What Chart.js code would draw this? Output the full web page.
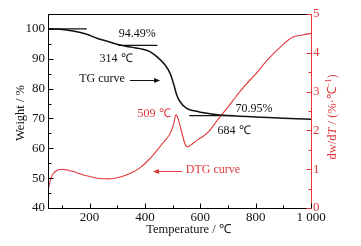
<!DOCTYPE html>
<html>
<head>
<meta charset="utf-8">
<script src="https://cdn.jsdelivr.net/npm/chart.js@4.4.0/dist/chart.umd.min.js"></script>
<style>
  html, body { margin: 0; padding: 0; background: #fff; }
  #wrap { width: 361px; height: 246px; }
</style>
</head>
<body>
<div id="wrap"><canvas id="tgChart" width="361" height="246"></canvas></div>
<script>
// TG curve (weight %, left axis)
const tgTemp   = [50, 93, 141, 190, 226, 270, 310, 350, 382, 418, 443, 473, 491, 503, 515, 527, 551, 587, 600, 635, 671, 700, 800, 900, 1000];
const tgWeight = [100, 99.9, 99.3, 98.2, 96.9, 95.7, 94.6, 93.9, 93.4, 92.4, 90.7, 87.9, 85.1, 81.8, 77.9, 75.6, 73.4, 72.4, 72.1, 71.6, 71.2, 71.0, 70.5, 70.1, 69.7];

// DTG curve (dw/dT, right axis)
const dtgTemp = [50, 60, 69, 85, 100, 120, 142, 170, 202, 238, 270, 311, 350, 383, 415, 444, 470, 492, 505, 512, 520, 534, 545, 552, 565, 589, 625, 667, 700, 730, 758, 800, 842, 891, 933, 970, 1000];
const dtgRate = [0.46, 0.75, 0.89, 0.98, 1.0, 0.98, 0.94, 0.87, 0.81, 0.76, 0.75, 0.80, 0.90, 1.04, 1.25, 1.49, 1.72, 1.93, 2.2, 2.4, 2.3, 1.93, 1.65, 1.58, 1.62, 1.75, 1.93, 2.31, 2.6, 2.88, 3.13, 3.45, 3.81, 4.16, 4.40, 4.46, 4.50];

// tangent lines (temperature from/to, weight)
const tangentFrom   = [50, 305, 560];
const tangentTo     = [190, 445, 720];
const tangentWeight = [100, 94.49, 70.95];

// tick labels
const xTicks  = [200, 400, 600, 800, 1000];
const yTicks  = [40, 50, 60, 70, 80, 90, 100];
const y1Ticks = [0, 1, 2, 3, 4, 5];

// annotation texts (temperature, weight, text, red?)
const noteText  = ['94.49%', '314 ℃', 'TG curve', '509 ℃', '70.95%', '684 ℃', 'DTG curve'];
const noteTemp  = [372, 296, 245, 433, 794, 722, 646];
const noteWt    = [98.3, 89.9, 83.2, 71.5, 73.2, 65.8, 52.7];
const noteRed   = [false, false, false, true, false, false, true];

const RED = '#e0383c';
const FONT = '"Liberation Serif", "Times New Roman", serif';

document.addEventListener("DOMContentLoaded", () => {
  const ctx = document.getElementById('tgChart').getContext('2d');

  const datasets = [
    {
      label: 'TG',
      data: tgTemp.map((t, i) => ({ x: t, y: tgWeight[i] })),
      borderColor: '#111', borderWidth: 1.5, pointRadius: 0,
      cubicInterpolationMode: 'monotone', yAxisID: 'y'
    },
    {
      label: 'DTG',
      data: dtgTemp.map((t, i) => ({ x: t, y: dtgRate[i] })),
      borderColor: RED, borderWidth: 1.1, pointRadius: 0,
      cubicInterpolationMode: 'monotone', yAxisID: 'y1'
    }
  ];
  tangentFrom.forEach((t, i) => {
    datasets.push({
      label: 'tangent' + i,
      data: [{ x: t, y: tangentWeight[i] }, { x: tangentTo[i], y: tangentWeight[i] }],
      borderColor: '#111', borderWidth: 1.3, pointRadius: 0, yAxisID: 'y'
    });
  });

  // 프레임, 안쪽 눈금, 축 제목, 주석
  const deco = {
    id: 'deco',
    afterDraw(chart) {
      const c = chart.ctx, a = chart.chartArea;
      const sx = chart.scales.x, sy = chart.scales.y, sy1 = chart.scales.y1;
      const L = Math.round(a.left) + 0.5, R = Math.round(a.right) + 0.5;
      const T = Math.round(a.top) + 0.5, B = Math.round(a.bottom) + 0.5;
      c.save();
      c.lineWidth = 1;

      function seg(x1, y1, x2, y2, col) {
        c.strokeStyle = col;
        c.beginPath(); c.moveTo(x1, y1); c.lineTo(x2, y2); c.stroke();
      }
      // frame
      seg(L, T, R, T, '#000');
      seg(L, T, L, B, '#000');
      seg(L, B, R, B, '#000');
      seg(R, T, R, B, RED);

      // x ticks
      for (let v = 100; v <= 1000; v += 100) {
        const px = Math.round(sx.getPixelForValue(v)) + 0.5;
        seg(px, B, px, B - (v % 200 === 0 ? 5 : 3), '#000');
      }
      // left ticks
      for (let v = 40; v <= 105; v += 5) {
        const py = Math.round(sy.getPixelForValue(v)) + 0.5;
        seg(L, py, L + (v % 10 === 0 ? 5 : 3), py, '#000');
      }
      // right ticks
      for (let k = 0; k <= 10; k++) {
        const py = Math.round(sy1.getPixelForValue(k / 2)) + 0.5;
        seg(R, py, R - (k % 2 === 0 ? 5 : 3), py, RED);
      }

      // axis titles
      c.font = '12.5px ' + FONT;
      c.textAlign = 'center'; c.textBaseline = 'middle';
      c.fillStyle = '#111';
      c.fillText('Temperature / ℃', (a.left + a.right) / 2 + 9, 230);

      c.save();
      c.translate(21, (a.top + a.bottom) / 2 + 2);
      c.rotate(-Math.PI / 2);
      c.fillText('Weight / %', 0, 0);
      c.restore();

      // right title with italic T and superscript
      const parts = [
        ['dw/d', '12.5px ' + FONT, 0],
        ['T', 'italic 12.5px ' + FONT, 0],
        [' / (%·℃', '12.5px ' + FONT, 0],
        ['−1', '8px ' + FONT, -4],
        [')', '12.5px ' + FONT, 0]
      ];
      let total = 0;
      parts.forEach(p => { c.font = p[1]; total += c.measureText(p[0]).width; });
      c.save();
      c.translate(333, 117);
      c.rotate(-Math.PI / 2);
      c.fillStyle = RED; c.textAlign = 'left';
      let cx = -total / 2;
      parts.forEach(p => {
        c.font = p[1];
        c.fillText(p[0], cx, p[2]);
        cx += c.measureText(p[0]).width;
      });
      c.restore();

      // annotations
      c.font = '12px ' + FONT;
      c.textAlign = 'center';
      noteText.forEach((txt, i) => {
        c.fillStyle = noteRed[i] ? RED : '#111';
        c.fillText(txt, sx.getPixelForValue(noteTemp[i]), sy.getPixelForValue(noteWt[i]));
      });

      // arrows
      function arrow(t1, t2, w, col) {
        const x1 = sx.getPixelForValue(t1), x2 = sx.getPixelForValue(t2);
        const py = Math.round(sy.getPixelForValue(w)) + 0.5;
        const dir = x2 > x1 ? 1 : -1;
        c.strokeStyle = col; c.fillStyle = col; c.lineWidth = 1;
        c.beginPath(); c.moveTo(x1, py); c.lineTo(x2 - dir * 4, py); c.stroke();
        c.beginPath();
        c.moveTo(x2, py);
        c.lineTo(x2 - dir * 6, py - 2.5);
        c.lineTo(x2 - dir * 6, py + 2.5);
        c.closePath(); c.fill();
      }
      arrow(346, 455, 82.9, '#111');
      arrow(534, 429, 52.4, RED);

      c.restore();
    }
  };

  new Chart(ctx, {
    type: 'line',
    data: { datasets: datasets },
    options: {
      responsive: false,
      devicePixelRatio: 1,
      animation: false,
      layout: { padding: { top: 14, left: 0, right: 0, bottom: 0 } },
      plugins: { legend: { display: false }, tooltip: { enabled: false } },
      scales: {
        x: {
          type: 'linear', min: 50, max: 1000,
          grid: { display: false, drawTicks: false }, border: { display: false },
          afterBuildTicks: s => { s.ticks = xTicks.map(v => ({ value: v })); },
          afterFit: s => { s.height = 38; },
          ticks: {
            padding: 2, color: '#111', maxRotation: 0,
            font: { family: FONT, size: 13 },
            callback: v => v === 1000 ? '1 000' : String(v)
          }
        },
        y: {
          position: 'left', min: 40, max: 105,
          grid: { display: false, drawTicks: false }, border: { display: false },
          afterBuildTicks: s => { s.ticks = yTicks.map(v => ({ value: v })); },
          afterFit: s => { s.width = 48; },
          ticks: { padding: 3, color: '#111', font: { family: FONT, size: 13 } }
        },
        y1: {
          position: 'right', min: 0, max: 5,
          grid: { display: false, drawTicks: false }, border: { display: false },
          afterBuildTicks: s => { s.ticks = y1Ticks.map(v => ({ value: v })); },
          afterFit: s => { s.width = 50; },
          ticks: { padding: 2, color: RED, font: { family: FONT, size: 13 } }
        }
      }
    },
    plugins: [deco]
  });
});
</script>
</body>
</html>
